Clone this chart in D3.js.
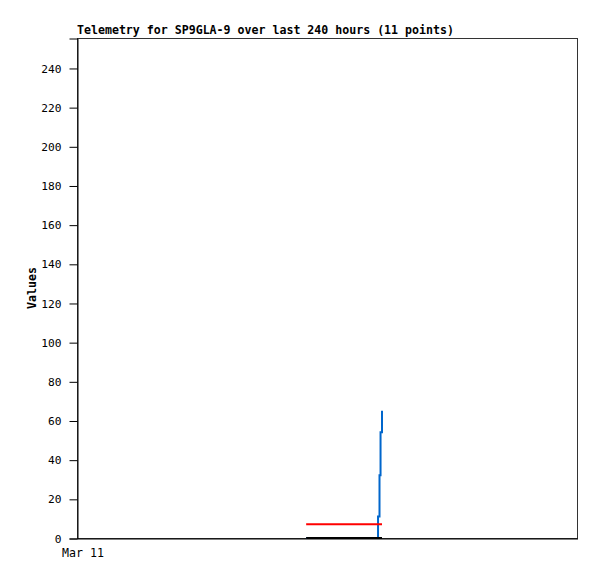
<!DOCTYPE html>
<html>
<head>
<meta charset="utf-8">
<script src="https://cdn.jsdelivr.net/npm/d3@7"></script>
<style>
  body { margin: 0; background: #fff; }
  text { font-family: "DejaVu Sans Mono", monospace; }
</style>
</head>
<body>
<svg id="chart" width="597" height="579"></svg>
<script>
// hours since window start (Mar 11 00:00)
const hours = [110, 120, 130, 144.5, 144.5, 145.2, 145.2, 145.7, 145.7, 146.4, 146.4];
const redValues = [7, 7, 7, 7, 7, 7, 7, 7, 7, 7, 7];
const blackValues = [0, 0, 0, 0, 0, 0, 0, 0, 0, 0, 0];
const blueValues = [0, 0, 0, 0, 11, 11, 32, 32, 54, 54, 65];
const yTicks = [0, 20, 40, 60, 80, 100, 120, 140, 160, 180, 200, 220, 240];
const xTickLabels = ['Mar 11'];
const title = 'Telemetry for SP9GLA-9 over last 240 hours (11 points)';

const config = {
  left: 77,
  right: 577,
  top: 38,
  bottom: 538,
  'font-size': '11.6px'
};

const svg = d3.select('#chart');

const x = d3.scaleLinear().domain([0, 240]).range([config.left, config.right]);
const y = d3.scaleLinear().domain([0, 255.3]).range([config.bottom, config.top]);

// frame
svg.append('rect')
  .attr('x', config.left + 0.5)
  .attr('y', config.top + 0.5)
  .attr('width', config.right - config.left)
  .attr('height', config.bottom - config.top)
  .attr('fill', 'none')
  .attr('stroke', '#333')
  .attr('stroke-width', 1);

const yAxis = d3.axisLeft(y)
  .tickValues(yTicks)
  .tickSize(8)
  .tickPadding(8);

svg.append('g')
  .attr('transform', `translate(${config.left + 0.5},0.5)`)
  .call(yAxis)
  .call(g => g.select('.domain').attr('stroke', '#000'))
  .call(g => g.selectAll('text')
    .style('font-size', '11.2px')
    .attr('fill', '#000'));

const xAxis = d3.axisBottom(x)
  .tickValues([0])
  .tickFormat((d, i) => xTickLabels[i])
  .tickSize(0)
  .tickPadding(10);

svg.append('g')
  .attr('transform', `translate(0.5,${config.bottom + 0.5})`)
  .call(xAxis)
  .call(g => g.select('.domain').attr('stroke', '#000'))
  .call(g => g.selectAll('text')
    .style('font-size', '11.6px')
    .attr('fill', '#000')
    .attr('dx', 5));

svg.append('text')
  .attr('x', config.left)
  .attr('y', 34)
  .style('font-size', config['font-size'])
  .style('font-weight', 'bold')
  .text(title);

svg.append('text')
  .attr('transform', `translate(36,${(config.top + config.bottom) / 2}) rotate(-90)`)
  .attr('text-anchor', 'middle')
  .style('font-size', config['font-size'])
  .style('font-weight', 'bold')
  .text('Values');

const line = vals => d3.line()
  .x((d, i) => x(hours[i]))
  .y(d => y(d))(vals);

// blue first, black last so the zero line stays visible
const series = [
  { vals: blueValues, color: '#0066cc' },
  { vals: redValues, color: '#f00' },
  { vals: blackValues, color: '#000' }
];

svg.append('g')
  .selectAll('path')
  .data(series)
  .enter()
  .append('path')
  .attr('d', d => line(d.vals))
  .attr('fill', 'none')
  .attr('stroke', d => d.color)
  .attr('stroke-width', 2);
</script>
</body>
</html>
